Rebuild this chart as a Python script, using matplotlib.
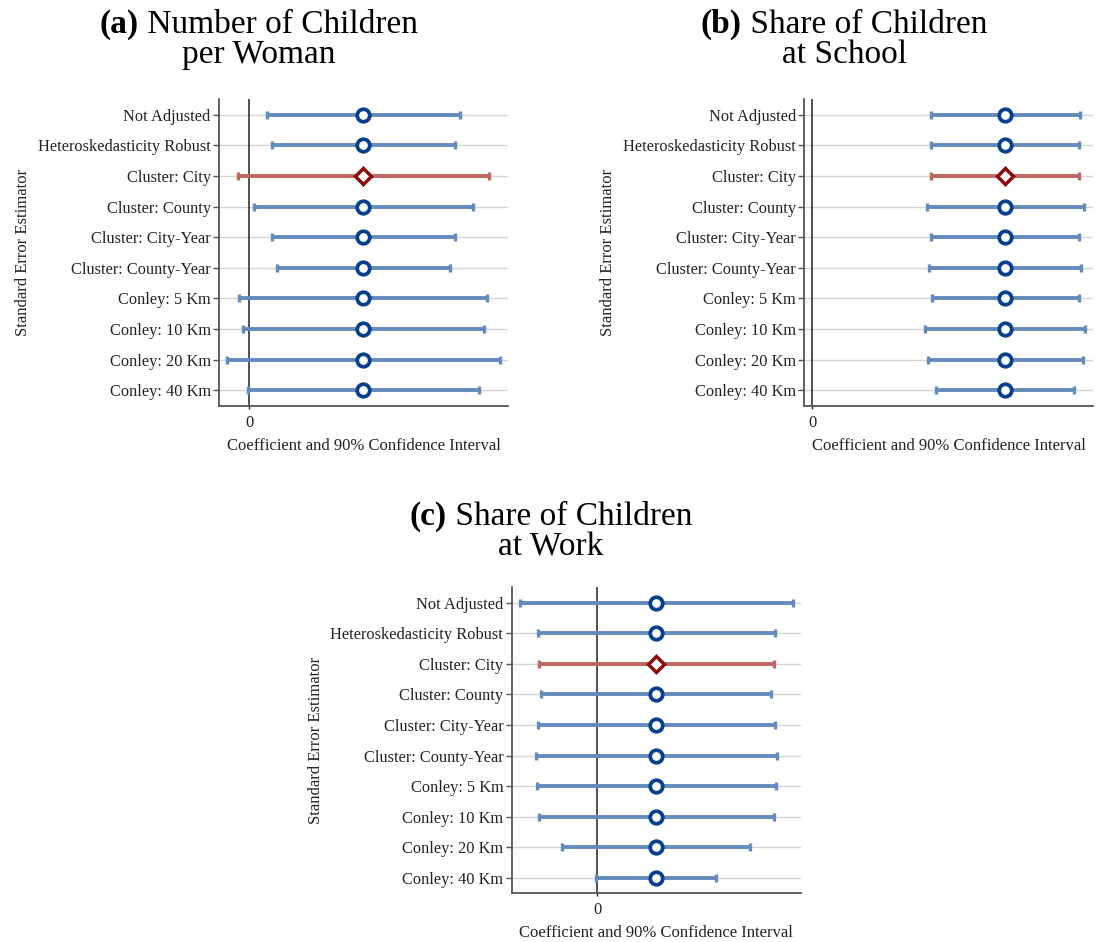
import matplotlib
matplotlib.use("Agg")
import matplotlib.pyplot as plt
import numpy as np

plt.rcParams['font.family'] = ['Liberation Serif', 'DejaVu Serif']

# Estimadores de error estandar (de arriba hacia abajo)
labels = ["Not Adjusted", "Heteroskedasticity Robust", "Cluster: City",
          "Cluster: County", "Cluster: City-Year", "Cluster: County-Year",
          "Conley: 5 Km", "Conley: 10 Km", "Conley: 20 Km", "Conley: 40 Km"]
highlight = "Cluster: City"

# Coeficientes e intervalos (unidades relativas)
coef_a = 1.14
lo_a = [0.18, 0.23, -0.11, 0.05, 0.23, 0.28, -0.10, -0.06, -0.22, -0.01]
hi_a = [2.11, 2.06, 2.40, 2.24, 2.06, 2.01, 2.38, 2.35, 2.51, 2.30]

coef_b = 1.93
lo_b = [1.19, 1.19, 1.19, 1.15, 1.19, 1.17, 1.20, 1.13, 1.16, 1.24]
hi_b = [2.68, 2.67, 2.67, 2.72, 2.67, 2.69, 2.67, 2.73, 2.71, 2.62]

coef_c = 0.59
lo_c = [-0.77, -0.59, -0.58, -0.56, -0.59, -0.61, -0.60, -0.58, -0.35, -0.01]
hi_c = [1.96, 1.78, 1.77, 1.74, 1.78, 1.80, 1.79, 1.77, 1.53, 1.19]

titulos = [("(a)", "Number of Children", "per Woman"),
           ("(b)", "Share of Children", "at School"),
           ("(c)", "Share of Children", "at Work")]

W, H = 1096, 942
fig = plt.figure(figsize=(W / 100, H / 100), dpi=100)

def rect(x0, x1, y0, y1):
    return [x0 / W, 1 - y1 / H, (x1 - x0) / W, (y1 - y0) / H]

paneles = [
    (rect(219, 508, 99.3, 405.7), coef_a, lo_a, hi_a, (-0.30, 2.59), 259),
    (rect(804.3, 1093, 99.3, 405.7), coef_b, lo_b, hi_b, (-0.08, 2.81), 844),
    (rect(511.7, 800.7, 587.3, 893.3), coef_c, lo_c, hi_c, (-0.853, 2.037), 551),
]
title_y = [(33, 63), (33, 63), (525, 555)]

azul, rojo = "#648bbd", "#c0655f"
navy, granate = "#063f8c", "#8b0a0a"

renderer = fig.canvas.get_renderer()

for i, (pos, coef, lo, hi, xl, tx) in enumerate(paneles):
    ax = fig.add_axes(pos)
    n = len(labels)
    ys = np.arange(n, 0, -1)
    for y in ys:
        ax.axhline(y, color="#d4d4d4", lw=1, zorder=0)
    ax.axvline(0, color="#222222", lw=1.1, zorder=1)
    for lab, y, l, h in zip(labels, ys, lo, hi):
        c = rojo if lab == highlight else azul
        ax.errorbar([coef], [y], xerr=[[coef - l], [h - coef]], fmt="none",
                    ecolor=c, elinewidth=2.8, capsize=3.2, capthick=2.4, zorder=2)
        if lab == highlight:
            ax.plot(coef, y, marker="D", ms=8, mfc="white", mec=granate,
                    mew=2.5, zorder=3)
        else:
            ax.plot(coef, y, marker="o", ms=9, mfc="white", mec=navy,
                    mew=2.7, zorder=3)
    ax.set_ylim(0.5, n + 0.5)
    ax.set_xlim(*xl)
    ax.set_yticks(ys)
    ax.set_yticklabels(labels, fontsize=11.8, color="#222222")
    ax.set_xticks([0])
    ax.set_xticklabels(["0"], fontsize=12, color="#222222")
    ax.tick_params(axis="y", length=4, width=1, color="#555555", pad=2)
    ax.tick_params(axis="x", length=2.5, width=1, color="#222222", pad=4)
    for s in ["top", "right"]:
        ax.spines[s].set_visible(False)
    for s in ["left", "bottom"]:
        ax.spines[s].set_color("#555555")
        ax.spines[s].set_linewidth(1.3)
    ax.set_xlabel("Coefficient and 90% Confidence Interval", fontsize=12,
                  color="#222222", labelpad=5)
    ax.set_ylabel("Standard Error Estimator", fontsize=12, color="#222222",
                  labelpad=5)

    # Titulo en dos lineas, "(x)" en negrita
    pref, linea1, linea2 = titulos[i]
    y1, y2 = title_y[i]
    t1 = fig.text(0, 1 - y1 / H, pref, fontsize=24, fontweight="bold",
                  ha="left", va="baseline")
    t2 = fig.text(0, 1 - y1 / H, " " + linea1, fontsize=24, ha="left",
                  va="baseline")
    w1 = t1.get_window_extent(renderer).width
    w2 = t2.get_window_extent(renderer).width
    x0 = tx - (w1 + w2) / 2
    t1.set_x(x0 / W)
    t2.set_x((x0 + w1) / W)
    fig.text(tx / W, 1 - y2 / H, linea2, fontsize=24, ha="center",
             va="baseline")

fig.savefig("out.png", dpi=100, facecolor="white")
